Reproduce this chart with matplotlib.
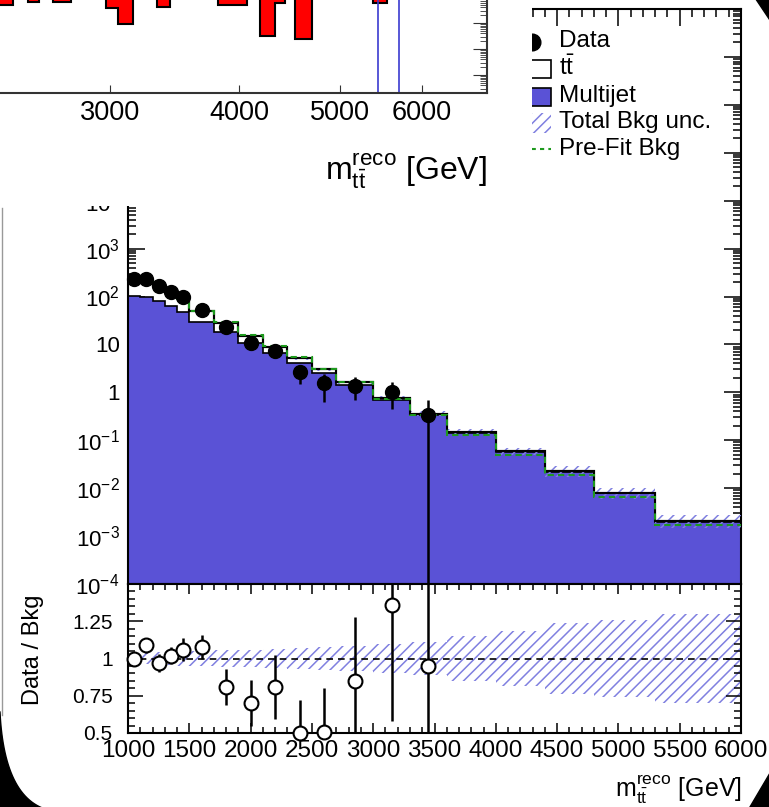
import numpy as np
import matplotlib
matplotlib.use('Agg')
import matplotlib.pyplot as plt
from matplotlib.patches import Rectangle, Polygon
from matplotlib.lines import Line2D
from matplotlib.ticker import (LogLocator, FixedLocator, MultipleLocator,
                               NullFormatter, FuncFormatter, NullLocator)

plt.rcParams['font.family'] = ['Liberation Sans', 'DejaVu Sans']
plt.rcParams['mathtext.fontset'] = 'custom'
plt.rcParams['mathtext.rm'] = 'Liberation Sans'
plt.rcParams['mathtext.it'] = 'Liberation Sans:italic'
plt.rcParams['mathtext.bf'] = 'Liberation Sans:bold'
plt.rcParams['hatch.linewidth'] = 1.1

W, H = 769, 807

# main histogram, m_tt reco bins [GeV]
edges = [1000, 1100, 1200, 1300, 1400, 1500, 1700, 1900, 2100, 2300, 2500,
         2700, 3000, 3300, 3600, 4000, 4400, 4800, 5300, 6000]
multijet = [104, 100, 79, 62, 47, 29, 18, 10.7, 6.6, 4.1, 2.5, 1.4, 0.70,
            0.34, 0.145, 0.057, 0.022, 0.0078, 0.0020]
ttbar = [128, 113, 89, 62, 44, 20, 10, 4.6, 2.3, 1.1, 0.55, 0.21, 0.06,
         0.02, 0.005, 0.002, 0.001, 0.0003, 0.0001]
prefit = [225, 207, 165, 122, 90, 50, 29, 16, 9.2, 5.4, 3.1, 1.65, 0.74,
          0.33, 0.13, 0.050, 0.019, 0.0067, 0.0017]
bkg_unc = [0.04, 0.04, 0.045, 0.045, 0.05, 0.05, 0.055, 0.06, 0.065, 0.07,
           0.075, 0.085, 0.095, 0.11, 0.15, 0.185, 0.24, 0.26, 0.30]

data_x = [1050, 1150, 1250, 1350, 1450, 1600, 1800, 2000, 2200, 2400, 2600,
          2850, 3150, 3450]
data_y = [232, 232, 163, 126, 96, 53, 22.8, 10.7, 7.2, 2.6, 1.54, 1.37, 1.03, 0.34]
data_err = [7, 10.6, 10, 7.4, 7.2, 3.9, 3.4, 2.4, 1.9, 1.14, 0.91, 0.69, 0.59, 0.34]

ratio = [1.0, 1.09, 0.97, 1.02, 1.06, 1.076, 0.81, 0.70, 0.81, 0.50, 0.505,
         0.85, 1.36, 0.95]
ratio_err = [0.03, 0.05, 0.06, 0.06, 0.08, 0.08, 0.12, 0.155, 0.215, 0.22,
             0.30, 0.43, 0.78, 1.0]

# overlapping plot in the top-left corner (log x)
inset_edges = [2300, 2420, 2500, 2565, 2645, 2750, 2975, 3055, 3155, 3330,
               3425, 3815, 4070, 4185, 4325, 4425, 4525, 4705, 5385, 5555, 7000]
inset_low = [0.49, 10, 0.65, 10, 0.65, 10, 0.38, 0.092, 10, 0.41, 10, 0.49,
             10, 0.032, 0.59, 10, 0.024, 10, 0.59, 10]
inset_lines = [5443, 5704]
inset_ticks = [3000, 4000, 5000, 6000]

legend_labels = ['Data', r'$\mathrm{t\bar{t}}$', 'Multijet', 'Total Bkg unc.', 'Pre-Fit Bkg']

blue = '#5a52d6'
hatch_col = '#8080e0'
green = '#1e9a1e'
mlabel = r'$\mathrm{m}_{\mathrm{t\bar{t}}}^{\mathrm{reco}}$ [GeV]'


def fx(x):
    return x / W


def fy(y):
    return 1 - y / H


def logfmt(v, pos):
    n = int(round(np.log10(v)))
    if n >= 5 or n < -4:
        return ''  # hidden under the overlapping plot / outside the panel
    if n == 0:
        return '1'
    if n == 1:
        return '10'
    return r'$10^{%d}$' % n


fig = plt.figure(figsize=(W / 100, H / 100), dpi=100)
fig.patch.set_facecolor('white')

ax = fig.add_axes([fx(128), fy(584), fx(741) - fx(128), fy(9) - fy(584)])
rax = fig.add_axes([fx(128), fy(733), fx(741) - fx(128), fy(584) - fy(733)])

# ---- top panel
tot = np.array(multijet) + np.array(ttbar)
unc = np.array(bkg_unc)
ax.stairs(tot, edges, baseline=1e-6, fill=True, facecolor='white',
          edgecolor='black', lw=1.5, zorder=1)
ax.stairs(multijet, edges, baseline=1e-6, fill=True, facecolor=blue,
          edgecolor='black', lw=1.2, zorder=2)
ax.stairs(tot * (1 + unc), edges, baseline=tot * (1 - unc), fill=True,
          facecolor='none', edgecolor=hatch_col, hatch='///', lw=0, zorder=3)
ax.stairs(tot, edges, baseline=None, color='black', lw=1.5, zorder=4)
ax.stairs(prefit, edges, baseline=None, color=green, ls=(0, (3, 2)), lw=1.5, zorder=5)
ax.errorbar(data_x, data_y, yerr=data_err, fmt='none', ecolor='black',
            elinewidth=1.8, zorder=6)
ax.plot(data_x, data_y, 'o', ms=10, color='black', clip_on=False, zorder=7)

ax.set_xlim(1000, 6000)
ax.set_yscale('log')
ax.set_ylim(1e-4, 1e8)
ax.yaxis.set_major_locator(LogLocator(base=10, numticks=30))
ax.yaxis.set_minor_locator(LogLocator(base=10, subs=np.arange(2, 10), numticks=300))
ax.yaxis.set_major_formatter(FuncFormatter(logfmt))
ax.yaxis.set_minor_formatter(NullFormatter())
ax.xaxis.set_major_locator(MultipleLocator(500))
ax.xaxis.set_minor_locator(MultipleLocator(100))
ax.tick_params(which='both', direction='in', top=True, right=True,
               labelbottom=False, labelsize=16, pad=6, width=1.1)
ax.tick_params(which='major', length=12)
ax.tick_params(which='minor', length=6)

# ---- ratio panel
rax.stairs(1 + unc, edges, baseline=1 - unc, fill=True, facecolor='none',
           edgecolor=hatch_col, hatch='///', lw=0, zorder=1)
rax.axhline(1, color='black', ls=(0, (4, 3)), lw=1.2, zorder=2)
rax.errorbar(data_x, ratio, yerr=ratio_err, fmt='none', ecolor='black',
             elinewidth=1.8, zorder=3)
rax.plot(data_x, ratio, 'o', ms=10, mfc='white', mec='black', mew=1.5,
         clip_on=False, zorder=4)
rax.set_xlim(1000, 6000)
rax.set_ylim(0.5, 1.5)
rax.yaxis.set_major_locator(FixedLocator([0.5, 0.75, 1, 1.25]))
rax.yaxis.set_major_formatter(FuncFormatter(lambda v, p: {0.5: '0.5', 0.75: '0.75', 1: '1', 1.25: '1.25'}.get(round(v, 2), '')))
rax.yaxis.set_minor_locator(MultipleLocator(0.05))
rax.xaxis.set_major_locator(MultipleLocator(500))
rax.xaxis.set_minor_locator(MultipleLocator(100))
rax.tick_params(which='both', direction='in', top=True, right=True, width=1.1)
rax.tick_params(axis='x', which='major', length=7, labelsize=17.5, pad=5)
rax.tick_params(axis='x', which='minor', length=4)
rax.tick_params(axis='y', which='major', length=11, labelsize=15, pad=11)
rax.tick_params(axis='y', which='minor', length=5)

for a in (ax, rax):
    for s in a.spines.values():
        s.set_linewidth(1.5)

fig.text(fx(33), fy(650), 'Data / Bkg', rotation=90, ha='center', va='center', fontsize=17)
fig.text(fx(742), fy(797), mlabel, ha='right', va='baseline', fontsize=18)

# ---- legend (left part hidden under the overlapping plot)
leg_base = [47, 75, 102, 128, 155]
for lab, yb in zip(legend_labels, leg_base):
    fig.text(fx(559), fy(yb), lab, ha='left', va='baseline', fontsize=17.5, zorder=3)
fig.add_artist(Line2D([fx(532)], [fy(42)], marker='o', ms=12, color='black',
                      transform=fig.transFigure, zorder=2))
fig.add_artist(Rectangle((fx(515), fy(78)), fx(551) - fx(515), fy(60) - fy(78),
                         transform=fig.transFigure, facecolor='white',
                         edgecolor='black', lw=1.2, zorder=2))
fig.add_artist(Rectangle((fx(515), fy(106)), fx(551) - fx(515), fy(88) - fy(106),
                         transform=fig.transFigure, facecolor=blue,
                         edgecolor='black', lw=1.2, zorder=2))
fig.add_artist(Rectangle((fx(515), fy(133)), fx(551) - fx(515), fy(113) - fy(133),
                         transform=fig.transFigure, facecolor='none',
                         edgecolor=hatch_col, hatch='///', lw=0, zorder=2))
fig.add_artist(Line2D([fx(515), fx(551)], [fy(149), fy(149)], color=green,
                      ls=(0, (2, 2)), lw=1.5, transform=fig.transFigure, zorder=2))

# ---- overlapping plot in the top-left corner
fig.add_artist(Rectangle((fx(-5), fy(206)), fx(532) + 5 / W, fy(-5) - fy(206),
                         transform=fig.transFigure, facecolor='white',
                         edgecolor='none', zorder=5))
iax = fig.add_axes([0, fy(93), fx(487), fy(0) - fy(93)], zorder=6)
iax.set_facecolor('none')
iax.set_xscale('log')
iax.set_yscale('log')
iax.set_xlim(2350, 6934)
iax.set_ylim(10 ** -3.69, 10 ** -0.115)
iax.stairs(inset_low, inset_edges, baseline=10, fill=True, facecolor='red',
           edgecolor='black', lw=1.5)
for xv in inset_lines:
    iax.axvline(xv, color='#3b3bd0', lw=1.2)
iax.spines['left'].set_visible(False)
iax.spines['top'].set_visible(False)
for s in ('bottom', 'right'):
    iax.spines[s].set_linewidth(1.5)
    iax.spines[s].set_color('#333333')
iax.xaxis.set_major_locator(FixedLocator(inset_ticks))
iax.xaxis.set_minor_locator(NullLocator())
iax.xaxis.set_major_formatter(FuncFormatter(lambda v, p: '%d' % v))
iax.yaxis.tick_right()
iax.yaxis.set_major_locator(LogLocator(base=10, numticks=20))
iax.yaxis.set_minor_locator(LogLocator(base=10, subs=np.arange(2, 10), numticks=200))
iax.yaxis.set_major_formatter(NullFormatter())
iax.yaxis.set_minor_formatter(NullFormatter())
iax.tick_params(axis='x', direction='in', length=6, labelsize=19.5, pad=5,
                color='#333333')
iax.tick_params(axis='y', which='major', direction='in', length=10, color='#333333')
iax.tick_params(axis='y', which='minor', direction='in', length=5, color='#333333')
fig.text(fx(487), fy(180), mlabel, ha='right', va='baseline', fontsize=23, zorder=7)

# ---- screen edges
fig.add_artist(Line2D([fx(1.5), fx(1.5)], [fy(208), fy(715)], color='#999999',
                      lw=1, transform=fig.transFigure, zorder=8))
corners = [
    [(755, -2), (771, -2), (771, 22)],
    [(771, 770), (771, 809), (748, 809)],
]
t = np.linspace(0, 1, 30)
curve = [((1 - s) ** 2 * 0 + 2 * (1 - s) * s * 4 + s ** 2 * 45,
          (1 - s) ** 2 * 712 + 2 * (1 - s) * s * 795 + s ** 2 * 809) for s in t]
corners.append([(-2, 712)] + curve + [(-2, 809)])
for pts in corners:
    fig.add_artist(Polygon([(fx(x), fy(y)) for x, y in pts], closed=True,
                           transform=fig.transFigure, facecolor='black',
                           edgecolor='black', zorder=10))

fig.savefig('out.png', dpi=100)
